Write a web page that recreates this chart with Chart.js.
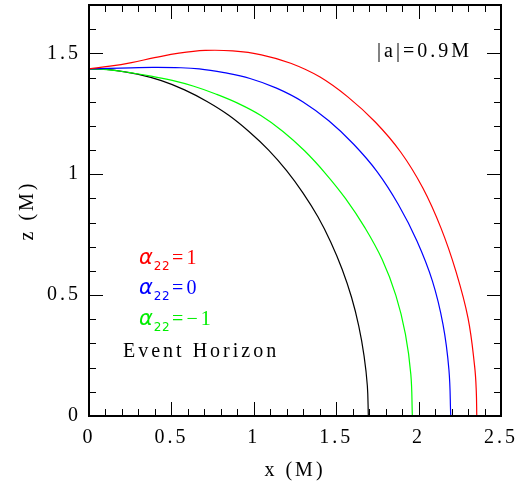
<!DOCTYPE html>
<html>
<head>
<meta charset="utf-8">
<script src="https://cdn.jsdelivr.net/npm/chart.js@4.4.1/dist/chart.umd.min.js"></script>
<style>
  html, body { margin: 0; padding: 0; background: #fff; }
  #wrap { width: 528px; height: 483px; }
</style>
</head>
<body>
<div id="wrap"><canvas id="chart" width="528" height="483"></canvas></div>
<script>
// horizon shapes, x and z in units of M
const redX = [0, 0.127, 0.258, 0.397, 0.546, 0.705, 0.872, 1.046, 1.224, 1.402, 1.572, 1.737, 1.891, 2.025, 2.136, 2.227, 2.300, 2.340, 2.350, 2.353];
const redZ = [1.436, 1.447, 1.462, 1.482, 1.501, 1.512, 1.510, 1.494, 1.459, 1.402, 1.319, 1.216, 1.092, 0.944, 0.777, 0.597, 0.405, 0.205, 0.103, 0];

const blueX = [0, 0.126, 0.254, 0.386, 0.524, 0.669, 0.820, 0.977, 1.138, 1.299, 1.455, 1.606, 1.749, 1.877, 1.990, 2.084, 2.148, 2.184, 2.195];
const blueZ = [1.436, 1.438, 1.440, 1.442, 1.441, 1.436, 1.420, 1.396, 1.356, 1.299, 1.221, 1.124, 1.010, 0.875, 0.724, 0.558, 0.379, 0.191, 0];

const greenX = [0, 0.125, 0.250, 0.377, 0.505, 0.636, 0.769, 0.905, 1.043, 1.177, 1.308, 1.434, 1.557, 1.673, 1.779, 1.862, 1.920, 1.953, 1.962];
const greenZ = [1.436, 1.432, 1.420, 1.406, 1.388, 1.364, 1.332, 1.293, 1.243, 1.177, 1.097, 1.004, 0.899, 0.780, 0.647, 0.499, 0.339, 0.171, 0];

const blackX = [0, 0.148, 0.294, 0.439, 0.580, 0.716, 0.848, 0.972, 1.090, 1.199, 1.298, 1.389, 1.468, 1.536, 1.593, 1.637, 1.669, 1.689, 1.695];
const blackZ = [1.436, 1.431, 1.414, 1.387, 1.349, 1.301, 1.244, 1.176, 1.100, 1.015, 0.923, 0.824, 0.718, 0.607, 0.491, 0.372, 0.249, 0.125, 0];

const xTickLabels = ['0', '0.5', '1', '1.5', '2', '2.5'];
const yTickLabels = ['0', '0.5', '1', '1.5'];

const SERIF = '"Liberation Serif", "DejaVu Serif", serif';

function toPoints(xs, zs) {
    return xs.map((x, i) => ({ x: x, y: zs[i] }));
}

function isMajor(v) {
    return Math.abs(v * 2 - Math.round(v * 2)) < 1e-6;
}

function majorLabel(v, labels) {
    if (!isMajor(v)) return '';
    const s = String(Math.round(v * 2) / 2);
    return labels.includes(s) ? s : '';
}

function spacing(chart) {
    chart.ctx.letterSpacing = '3px';
}

// inward tick marks on all four sides + frame
const frameTicks = {
    id: 'frameTicks',
    beforeUpdate: spacing,
    beforeLayout: spacing,
    beforeDraw: spacing,
    afterDatasetsDraw(chart) {
        const { ctx, chartArea: a, scales } = chart;
        ctx.save();
        ctx.strokeStyle = '#000';
        ctx.lineWidth = 1;
        ctx.beginPath();
        scales.x.ticks.forEach(t => {
            const px = Math.round(scales.x.getPixelForValue(t.value)) + 0.5;
            const len = isMajor(t.value) ? 14 : 7;
            ctx.moveTo(px, a.bottom); ctx.lineTo(px, a.bottom - len);
            ctx.moveTo(px, a.top); ctx.lineTo(px, a.top + len);
        });
        scales.y.ticks.forEach(t => {
            const py = Math.round(scales.y.getPixelForValue(t.value)) + 0.5;
            const len = isMajor(t.value) ? 14 : 7;
            ctx.moveTo(a.left, py); ctx.lineTo(a.left + len, py);
            ctx.moveTo(a.right, py); ctx.lineTo(a.right - len, py);
        });
        ctx.stroke();
        ctx.lineWidth = 2;
        ctx.strokeRect(a.left, a.top, a.right - a.left, a.bottom - a.top);
        ctx.restore();
    },
    afterDraw(chart) {
        const ctx = chart.ctx;
        ctx.save();
        ctx.letterSpacing = '3px';
        ctx.textBaseline = 'alphabetic';
        ctx.textAlign = 'left';
        ctx.fillStyle = '#000';
        ctx.font = '20px ' + SERIF;
        ctx.fillText('|a|=0.9M', 377, 57);
        ctx.fillText('Event Horizon', 123, 357);

        const alphas = [
            { text: '=1', color: '#ff0000', y: 264 },
            { text: '=0', color: '#0000ff', y: 294 },
            { text: '=\u22121', color: '#00ee00', y: 325 }
        ];
        alphas.forEach(l => {
            let x = 139;
            ctx.fillStyle = l.color;
            ctx.letterSpacing = '0px';
            ctx.font = 'italic 21px "DejaVu Sans", sans-serif';
            ctx.fillText('\u03b1', x, l.y);
            x += ctx.measureText('\u03b1').width + 1;
            ctx.font = '12px "DejaVu Sans", sans-serif';
            ctx.letterSpacing = '0.5px';
            ctx.fillText('22', x, l.y + 6);
            x += ctx.measureText('22').width + 2;
            ctx.letterSpacing = '3px';
            ctx.font = '20px ' + SERIF;
            ctx.fillText(l.text, x, l.y);
        });
        ctx.restore();
    }
};

const ctx = document.getElementById('chart').getContext('2d');

const line = (data, color) => ({
    data: data,
    showLine: true,
    borderColor: color,
    borderWidth: 1.2,
    pointRadius: 0,
    tension: 0.4,
    fill: false
});

new Chart(ctx, {
    type: 'scatter',
    data: {
        datasets: [
            line(toPoints(redX, redZ), '#ff0000'),
            line(toPoints(blueX, blueZ), '#0000ff'),
            line(toPoints(greenX, greenZ), '#00ff00'),
            line(toPoints(blackX, blackZ), '#000000')
        ]
    },
    options: {
        responsive: false,
        animation: false,
        devicePixelRatio: 1,
        layout: { padding: { top: 5, right: 27, left: 0, bottom: 0 } },
        plugins: {
            legend: { display: false },
            tooltip: { enabled: false }
        },
        scales: {
            x: {
                type: 'linear',
                min: 0,
                max: 2.5,
                border: { display: false },
                grid: { display: false, drawTicks: false },
                ticks: {
                    stepSize: 0.1,
                    autoSkip: false,
                    maxRotation: 0,
                    padding: 10,
                    color: '#000',
                    font: { family: SERIF, size: 20 },
                    callback: v => majorLabel(v, xTickLabels)
                },
                title: {
                    display: true,
                    text: 'x (M)',
                    color: '#000',
                    font: { family: SERIF, size: 20 },
                    padding: { top: 5, bottom: 0 }
                },
                afterFit: s => {
                    s.height = 67;
                    s.paddingLeft = 0;
                    s.paddingRight = 0;
                }
            },
            y: {
                type: 'linear',
                min: 0,
                max: 1.7,
                border: { display: false },
                grid: { display: false, drawTicks: false },
                ticks: {
                    stepSize: 0.1,
                    autoSkip: false,
                    padding: 8,
                    color: '#000',
                    font: { family: SERIF, size: 20 },
                    callback: v => majorLabel(v, yTickLabels)
                },
                title: {
                    display: true,
                    text: 'z (M)',
                    color: '#000',
                    font: { family: SERIF, size: 20 },
                    padding: { top: 16, bottom: 0 }
                },
                afterFit: s => {
                    s.width = 89;
                    s.paddingTop = 0;
                    s.paddingBottom = 0;
                }
            }
        }
    },
    plugins: [frameTicks]
});
</script>
</body>
</html>
